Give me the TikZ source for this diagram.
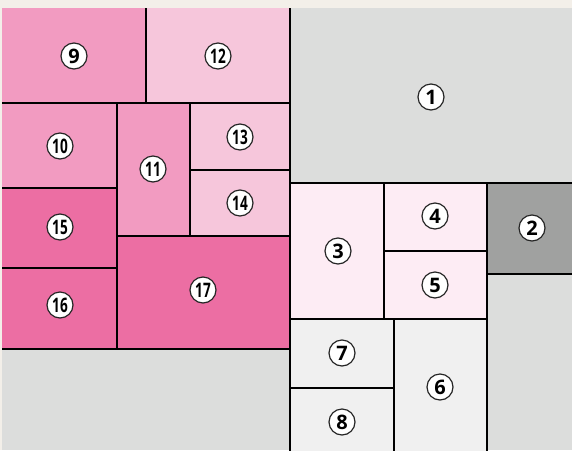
\documentclass[tikz,border=0pt]{standalone}
\usepackage{fontspec}
\setmainfont{Open Sans}
\definecolor{cream}{RGB}{243,239,233}
\definecolor{bggray}{RGB}{220,221,220}
\definecolor{darkgray}{RGB}{160,161,160}
\definecolor{pinkA}{RGB}{242,155,193}
\definecolor{pinkB}{RGB}{246,198,219}
\definecolor{pinkC}{RGB}{236,110,163}
\definecolor{pinkD}{RGB}{253,236,244}
\definecolor{lightgray}{RGB}{240,240,240}
\tikzset{
  box/.style={draw=black,line width=2.2pt},
  num/.style={circle,draw=black!85,line width=1.2pt,fill=white,inner sep=0pt,
    minimum size=26pt,font=\bfseries\fontsize{20}{20}\selectfont},
}
\newcommand{\dd}[1]{\scalebox{0.68}[1]{#1}}
\begin{document}
\begin{tikzpicture}[x=1pt,y=-1pt]
\useasboundingbox (0,0) rectangle (572,450);
\fill[cream] (0,0) rectangle (572,450);
\begin{scope}
\clip (2,8) rectangle (572,450);
\fill[bggray] (2,8) rectangle (572,450);
% top-left pink group
\filldraw[box,fill=pinkA] (-5,0) rectangle (146,103);
\filldraw[box,fill=pinkB] (146,0) rectangle (290,103);
\filldraw[box,fill=pinkA] (-5,103) rectangle (117,188);
\filldraw[box,fill=pinkA] (117,103) rectangle (190,236);
\filldraw[box,fill=pinkB] (190,103) rectangle (290,170);
\filldraw[box,fill=pinkB] (190,170) rectangle (290,236);
\filldraw[box,fill=pinkC] (-5,188) rectangle (117,268);
\filldraw[box,fill=pinkC] (-5,268) rectangle (117,349);
\filldraw[box,fill=pinkC] (117,236) rectangle (290,349);
% right group
\draw[box] (290,0) -- (290,460);
\filldraw[box,fill=pinkD] (290,183) rectangle (384,319);
\filldraw[box,fill=pinkD] (384,183) rectangle (487,251);
\filldraw[box,fill=pinkD] (384,251) rectangle (487,319);
\filldraw[box,fill=darkgray] (487,183) rectangle (580,274);
\filldraw[box,fill=lightgray] (290,319) rectangle (394,388);
\filldraw[box,fill=lightgray] (290,388) rectangle (394,460);
\filldraw[box,fill=lightgray] (394,319) rectangle (487,460);
\end{scope}
% labels
\node[num] (n1) at (431,97) {1};
\node[num] (n2) at (532,228) {2};
\node[num] (n3) at (338,251) {3};
\node[num] (n4) at (435,216) {4};
\node[num] (n5) at (435,285) {5};
\node[num] (n6) at (440,387) {6};
\node[num] (n7) at (342,353) {7};
\node[num] (n8) at (342,422) {8};
\node[num] (n9) at (74,56) {9};
\node[num] (n10) at (60,146) {\dd{10}};
\node[num] (n11) at (153,169) {\dd{11}};
\node[num] (n12) at (218,56) {\dd{12}};
\node[num] (n13) at (240,137) {\dd{13}};
\node[num] (n14) at (240,203) {\dd{14}};
\node[num] (n15) at (60,227) {\dd{15}};
\node[num] (n16) at (60,305) {\dd{16}};
\node[num] (n17) at (203,290) {\dd{17}};
\end{tikzpicture}
\end{document}
